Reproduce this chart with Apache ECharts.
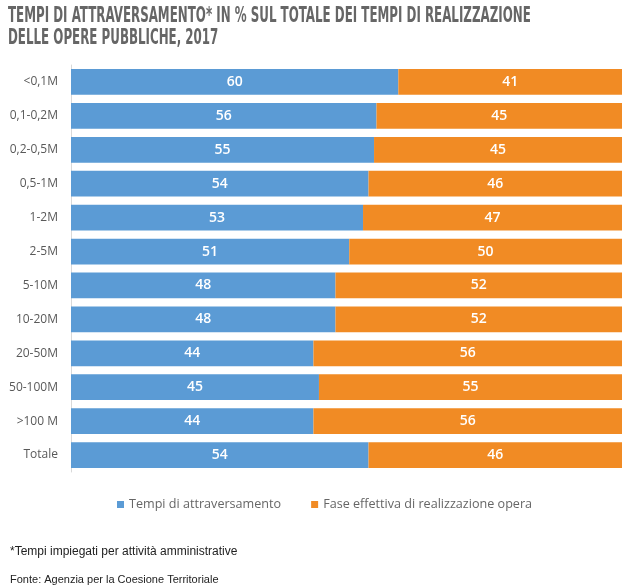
<!DOCTYPE html>
<html><head><meta charset="utf-8">
<script src="https://cdn.jsdelivr.net/npm/echarts@6/dist/echarts.min.js"></script>
<style>html,body{margin:0;padding:0;background:#fff;}#c{width:628px;height:586px;}</style>
</head><body><div id="c"></div>
<script>
const categories = ['<0,1M','0,1-0,2M','0,2-0,5M','0,5-1M','1-2M','2-5M','5-10M','10-20M','20-50M','50-100M','>100 M','Totale'];
const tempiAttraversamento = [60,56,55,54,53,51,48,48,44,45,44,54];
const faseRealizzazione = [41,45,45,46,47,50,52,52,56,55,56,46];
const seriesNames = ['Tempi di attraversamento','Fase effettiva di realizzazione opera'];
const titleLines = ['TEMPI DI ATTRAVERSAMENTO* IN % SUL TOTALE DEI TEMPI DI REALIZZAZIONE','DELLE OPERE PUBBLICHE, 2017'];
const footnote = '*Tempi impiegati per attività amministrative';
const source = 'Fonte: Agenzia per la Coesione Territoriale';

// 100% stacked: each row is drawn as its share of the row total, label shows the raw value
const share = (arr, i) => arr[i] / (tempiAttraversamento[i] + faseRealizzazione[i]) * 100;
const mk = (arr) => arr.map((v, i) => ({ value: share(arr, i), raw: v }));

const chart = echarts.init(document.getElementById('c'), null, { renderer: 'canvas' });
const labelCfg = {
  show: true, position: 'inside', color: '#fff', fontSize: 14, fontWeight: 600,
  fontFamily: 'Open Sans', formatter: p => p.data.raw
};
const titleFont = 'bold 21px "DejaVu Sans Condensed", "DejaVu Sans", sans-serif';
chart.setOption({
  animation: false,
  backgroundColor: '#fff',
  title: [
    { text: footnote, left: 5, top: 541, textStyle: { fontFamily: 'Liberation Sans', fontWeight: 'normal', fontSize: 12, color: '#222' } },
    { text: source, left: 5, top: 569, textStyle: { fontFamily: 'Liberation Sans', fontWeight: 'normal', fontSize: 11, color: '#222' } }
  ],
  graphic: [
    { type: 'text', x: 8, y: 6, scaleX: 0.628, style: { text: titleLines[0], font: titleFont, fill: '#666' } },
    { type: 'text', x: 8, y: 28, scaleX: 0.628, style: { text: titleLines[1], font: titleFont, fill: '#666' } }
  ],
  legend: {
    data: seriesNames, top: 493, left: 112, itemWidth: 7, itemHeight: 7, itemGap: 30,
    icon: 'rect',
    textStyle: { fontFamily: 'Open Sans', fontSize: 12.6, color: '#666' }
  },
  grid: { left: 71, right: 6, top: 65, bottom: 114, containLabel: false },
  xAxis: { type: 'value', min: 0, max: 100, show: false },
  yAxis: {
    type: 'category', data: categories, inverse: true,
    axisLine: { show: true, lineStyle: { color: '#d9d9d9', width: 1 } },
    axisTick: { show: false },
    axisLabel: { fontFamily: 'Open Sans', fontSize: 12, color: '#595959', margin: 13 }
  },
  series: [
    { name: seriesNames[0], type: 'bar', stack: 't', barWidth: '76%', data: mk(tempiAttraversamento),
      itemStyle: { color: '#5B9BD5' }, label: labelCfg },
    { name: seriesNames[1], type: 'bar', stack: 't', barWidth: '76%', data: mk(faseRealizzazione),
      itemStyle: { color: '#F18B24' }, label: labelCfg }
  ]
});
</script></body></html>
